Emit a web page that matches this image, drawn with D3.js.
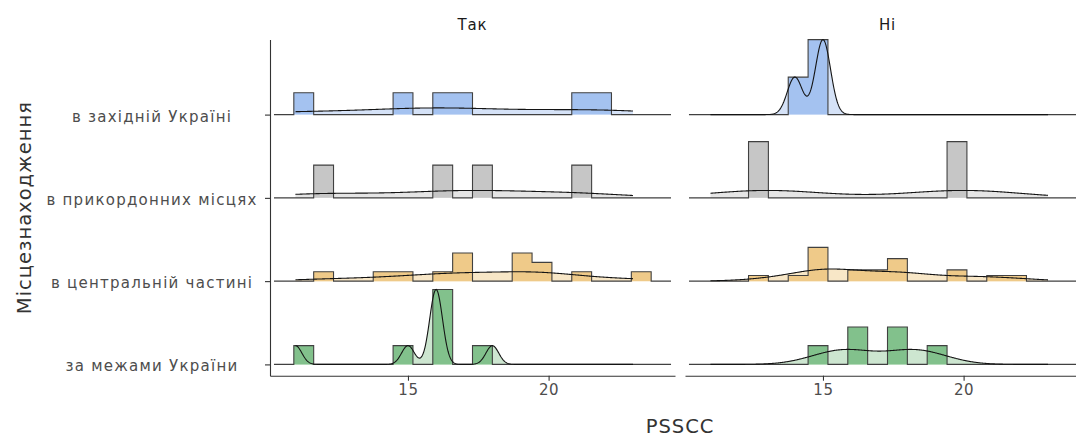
<!DOCTYPE html>
<html>
<head>
<meta charset="utf-8">
<script src="https://cdn.jsdelivr.net/npm/d3@7"></script>
<style>
  body { margin: 0; background: #fff; }
  svg { display: block; font-family: "DejaVu Sans", sans-serif; }
</style>
</head>
<body>
<svg id="chart" width="1076" height="438"></svg>
<script>
// ---- data: PSSCC scores by place of residence, split by answer ----
const facets = ["Так", "Ні"];
// rows from bottom to top
const places = ["за межами України", "в центральній частині", "в прикордонних місцях", "в західній Україні"];

const takWest   = [11, 15, 16, 17, 21, 22];
const takBorder = [12, 16, 18, 21];
const takCentre = [12, 14, 15, 16, 17, 17, 17, 19, 19, 19, 20, 20, 21, 23];
const takAbroad = [11, 15, 16, 16, 16, 16, 18];

const niWest   = [14, 15, 15];
const niBorder = [13, 20];
const niCentre = [13, 14, 15, 15, 15, 15, 15, 15, 16, 16, 17, 17, 18, 18, 18, 18, 20, 20, 21, 22];
const niAbroad = [15, 16, 16, 18, 18, 19];

const xTicks = [15, 20];
const binCount = 18;
const xTitle = "PSSCC";
const yTitle = "Місцезнаходження";

const strongFill = ["#82c18c", "#efca89", "#c6c6c6", "#a4c2f0"];
const lightFill  = ["#cde6d0", "#f8e7c7", "#e5e5e5", "#d5e2f7"];

const groups = [
  { facet: 0, row: 3, scores: takWest },
  { facet: 0, row: 2, scores: takBorder },
  { facet: 0, row: 1, scores: takCentre },
  { facet: 0, row: 0, scores: takAbroad },
  { facet: 1, row: 3, scores: niWest },
  { facet: 1, row: 2, scores: niBorder },
  { facet: 1, row: 1, scores: niCentre },
  { facet: 1, row: 0, scores: niAbroad }
];

// ---- statistics: binned line histogram + gaussian density per group ----
const allScores = groups.flatMap(g => g.scores);
const [lo, hi] = d3.extent(allScores);
const binW = (hi - lo) / (binCount - 1);
const boundary = binW / 2;
const origin = boundary + Math.floor((lo - boundary) / binW) * binW;
const nBins = Math.round((hi + binW * (1 - 1e-8) - origin) / binW - 0.5);
const edge = k => origin + k * binW;

function bwNrd0(x) {
  const s = x.slice().sort(d3.ascending);
  const sd = d3.deviation(s);
  const iqr = d3.quantile(s, 0.75) - d3.quantile(s, 0.25);
  let v = Math.min(sd, iqr / 1.34);
  if (!v) v = sd || Math.abs(s[0]) || 1;
  return 0.9 * v * Math.pow(s.length, -0.2);
}

const grid = d3.range(512).map(i => lo + i * (hi - lo) / 511);

groups.forEach(g => {
  const n = g.scores.length;
  const counts = new Array(nBins).fill(0);
  g.scores.forEach(v => {
    const k = Math.ceil((v - origin) / binW - 1e-7) - 1;
    counts[Math.max(0, Math.min(nBins - 1, k))] += 1;
  });
  // padded step outline: empty bin on each side
  const bins = [{ x0: edge(-1), x1: edge(0), d: 0 }];
  counts.forEach((c, k) => bins.push({ x0: edge(k), x1: edge(k + 1), d: c / (n * binW) }));
  bins.push({ x0: edge(nBins), x1: edge(nBins + 1), d: 0 });
  g.steps = bins.flatMap(b => [[b.x0, b.d], [b.x1, b.d]]);
  g.histMax = d3.max(bins, b => b.d);

  const bw = bwNrd0(g.scores);
  const c = 1 / (n * bw * Math.sqrt(2 * Math.PI));
  g.dens = grid.map(x => [x, c * d3.sum(g.scores, v => Math.exp(-0.5 * ((x - v) / bw) ** 2))]);
  g.densMax = d3.max(g.dens, d => d[1]);
});

// ---- layout ----
const svg = d3.select("#chart");
const panelW = 405, panelGap = 10, panelLeft = 270;
const panelTop = 39.6, panelBottom = 375.7;
const ridgeScale = 0.9;

const padLo = edge(-1), padHi = edge(nBins + 1);
const span = padHi - padLo;
const xDomain = [padLo - 0.01 * span, padHi + 0.01 * span];

const y = d3.scaleLinear().domain([1, 4]).range([364.4, 114.6]);
const yAxisScale = d3.scaleLinear()
  .domain([y.invert(panelBottom), y.invert(panelTop)])
  .range([panelBottom, panelTop]);

facets.forEach((facetName, f) => {
  const x0 = panelLeft + f * (panelW + panelGap);
  const x = d3.scaleLinear().domain(xDomain).range([x0, x0 + panelW]);
  const fg = groups.filter(g => g.facet === f).sort((a, b) => b.row - a.row);
  const histMax = d3.max(fg, g => g.histMax);
  const densMax = d3.max(fg, g => g.densMax);

  const panel = svg.append("g").attr("class", "panel");

  const ridgeY = (g, v, m) => y(g.row + 1 + ridgeScale * v / m);

  // density fill
  fg.forEach(g => {
    const area = d3.area()
      .x(d => x(d[0]))
      .y0(y(g.row + 1))
      .y1(d => ridgeY(g, d[1], densMax));
    panel.append("path").attr("d", area(g.dens))
      .attr("fill", lightFill[g.row]).attr("stroke", "none");
  });

  // histogram fill + outline
  fg.forEach(g => {
    const area = d3.area()
      .x(d => x(d[0]))
      .y0(y(g.row + 1))
      .y1(d => ridgeY(g, d[1], histMax));
    const line = d3.line()
      .x(d => x(d[0]))
      .y(d => ridgeY(g, d[1], histMax));
    panel.append("path").attr("d", area(g.steps))
      .attr("fill", strongFill[g.row]).attr("stroke", "none");
    panel.append("path").attr("d", line(g.steps))
      .attr("fill", "none").attr("stroke", "#404040").attr("stroke-width", 1.1)
      .attr("stroke-linejoin", "miter");
  });

  // density outline
  fg.forEach(g => {
    const line = d3.line()
      .x(d => x(d[0]))
      .y(d => ridgeY(g, d[1], densMax));
    panel.append("path").attr("d", line(g.dens))
      .attr("fill", "none").attr("stroke", "#141414").attr("stroke-width", 1.1);
  });

  // bottom axis
  const xAxis = svg.append("g")
    .attr("transform", `translate(0,${panelBottom})`)
    .call(d3.axisBottom(x).tickValues(xTicks).tickSize(5).tickSizeOuter(0).tickPadding(4));
  xAxis.select(".domain").attr("stroke", "#333").attr("stroke-width", 1.1);
  xAxis.selectAll(".tick line").attr("stroke", "#333").attr("stroke-width", 1.1);
  xAxis.selectAll(".tick text")
    .attr("font-family", "DejaVu Sans, sans-serif")
    .attr("font-size", 15).attr("fill", "#4d4d4d")
    .attr("letter-spacing", "0.6px");

  // strip label
  svg.append("text")
    .attr("x", x0 + panelW / 2).attr("y", 30)
    .attr("text-anchor", "middle")
    .attr("font-size", 15).attr("fill", "#1a1a1a")
    .attr("letter-spacing", "0.8px")
    .text(facetName);
});

// left axis (first panel only)
const yAxis = svg.append("g")
  .attr("transform", `translate(${panelLeft},0)`)
  .call(d3.axisLeft(yAxisScale)
    .tickValues([1, 2, 3, 4])
    .tickFormat(i => places[i - 1])
    .tickSize(5).tickSizeOuter(0));
yAxis.select(".domain").attr("stroke", "#333").attr("stroke-width", 1.1);
yAxis.selectAll(".tick line").attr("stroke", "#333").attr("stroke-width", 1.1);
yAxis.selectAll(".tick text")
  .attr("font-family", "DejaVu Sans, sans-serif")
  .attr("font-size", 15).attr("fill", "#4d4d4d")
  .attr("letter-spacing", "1.25px")
  .attr("text-anchor", "middle")
  .attr("x", 152 - panelLeft)
  .attr("dy", "0.43em");

// axis titles
svg.append("text")
  .attr("x", (panelLeft + panelLeft + 2 * panelW + panelGap) / 2).attr("y", 433)
  .attr("text-anchor", "middle")
  .attr("font-size", 19.5).attr("fill", "#333")
  .attr("letter-spacing", "1px")
  .text(xTitle);

svg.append("text")
  .attr("transform", `translate(31,${(panelTop + panelBottom) / 2}) rotate(-90)`)
  .attr("text-anchor", "middle")
  .attr("font-size", 19.5).attr("fill", "#333")
  .attr("letter-spacing", "1px")
  .text(yTitle);
</script>
</body>
</html>
